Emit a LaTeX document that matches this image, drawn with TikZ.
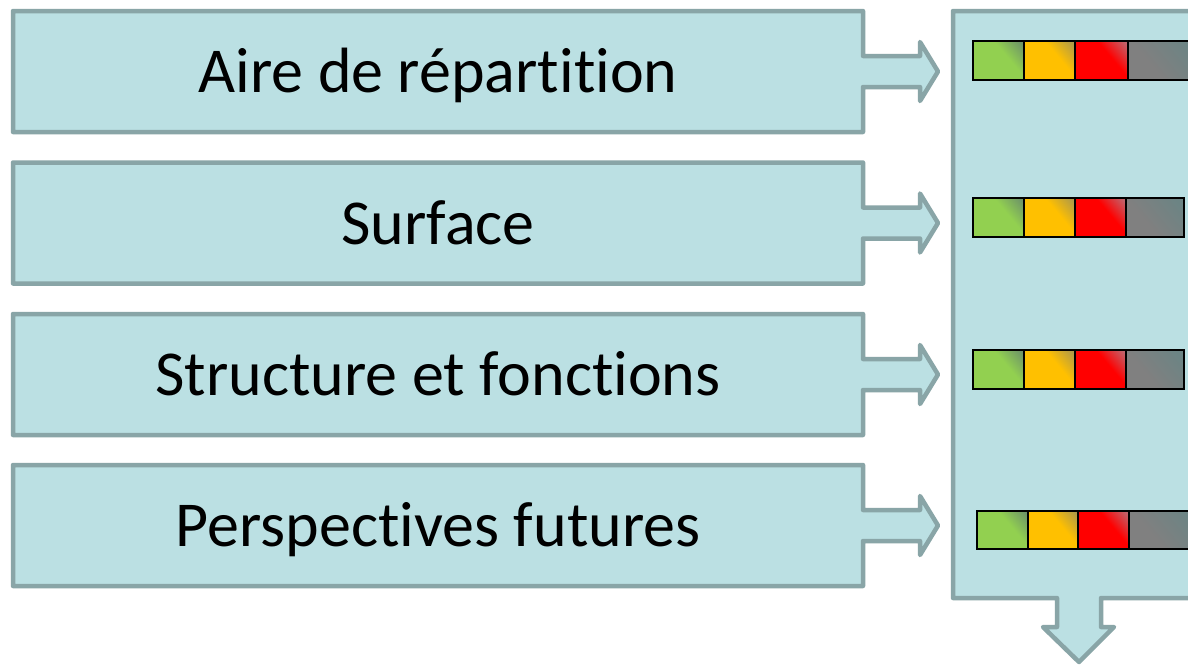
\documentclass[tikz,border=0pt]{standalone}
\usepackage{fontspec}
\setmainfont[RawFeature={-liga,-dlig,-clig}]{Carlito}
\definecolor{bfill}{HTML}{BBE0E3}
\definecolor{bline}{HTML}{89A5A7}
\definecolor{sqG}{HTML}{92D050}
\definecolor{sqGe}{HTML}{6E9468}
\definecolor{sqO}{HTML}{FFC000}
\definecolor{sqOe}{HTML}{B09A48}
\definecolor{sqR}{HTML}{FF0000}
\definecolor{sqRe}{HTML}{C2626A}
\definecolor{sqK}{HTML}{808080}
\definecolor{sqKe}{HTML}{6C8484}
\pgfdeclarehorizontalshading{shG}{100bp}{color(0bp)=(sqG); color(60bp)=(sqG); color(82bp)=(sqGe); color(100bp)=(sqGe)}
\pgfdeclarehorizontalshading{shO}{100bp}{color(0bp)=(sqO); color(60bp)=(sqO); color(82bp)=(sqOe); color(100bp)=(sqOe)}
\pgfdeclarehorizontalshading{shR}{100bp}{color(0bp)=(sqR); color(60bp)=(sqR); color(82bp)=(sqRe); color(100bp)=(sqRe)}
\pgfdeclarehorizontalshading{shK}{100bp}{color(0bp)=(sqK); color(40bp)=(sqK); color(78bp)=(sqKe); color(100bp)=(sqKe)}
\tikzset{
  blockshape/.style={draw=bline, fill=bfill, line width=4.5pt, line join=round},
  lbl/.style={font=\fontsize{64}{72}\selectfont, text=black, inner sep=0pt, anchor=base},
  sqbox/.style={draw=black, line width=2pt, shading angle=40},
}
% box with right arrow, #1 = y centre
\newcommand{\boxarrow}[1]{%
  \path[blockshape] (13,#1-60.5) -- (863,#1-60.5) -- (863,#1-15.5) -- (920,#1-15.5)
    -- (920,#1-29.5) -- (938,#1) -- (920,#1+29.5) -- (920,#1+15.5) -- (863,#1+15.5)
    -- (863,#1+60.5) -- (13,#1+60.5) -- cycle;}
% squares row: #1 x left, #2 y top, #3 y bottom, #4 x1, #5 x2, #6 x3, #7 x end
\newcommand{\sqrow}[7]{%
  \path[sqbox, shading=shG] (#1,#2) rectangle (#4,#3);
  \path[sqbox, shading=shO] (#4,#2) rectangle (#5,#3);
  \path[sqbox, shading=shR] (#5,#2) rectangle (#6,#3);
  \path[sqbox, shading=shK] (#6,#2) rectangle (#7,#3);}
\begin{document}
\begin{tikzpicture}[x=1pt,y=-1pt]
\useasboundingbox (0,0) rectangle (1188,667);
\clip (0,0) rectangle (1188,667);
\fill[white] (0,0) rectangle (1188,667);
% big right box with down arrow
\path[blockshape] (953,11) -- (1200,11) -- (1200,598) -- (1101,598) -- (1101,627)
  -- (1114,627) -- (1079,662) -- (1043,627) -- (1057,627) -- (1057,598) -- (953,598) -- cycle;
\boxarrow{71.5}
\boxarrow{223}
\boxarrow{374.5}
\boxarrow{525.5}
\node[lbl] (t1) at (438,92) {Aire de répartition};
\node[lbl] (t2) at (438,244) {Surface};
\node[lbl] (t3) at (438,395) {Structure et fonctions};
\node[lbl] (t4) at (438,546) {Perspectives futures};
\sqrow{973}{41}{80}{1024}{1075}{1128}{1195}
\sqrow{973}{198}{237}{1024}{1075}{1126}{1184}
\sqrow{973}{350}{389}{1024}{1075}{1126}{1184}
\sqrow{977}{511}{549}{1028}{1078}{1129}{1195}
\end{tikzpicture}
\end{document}
